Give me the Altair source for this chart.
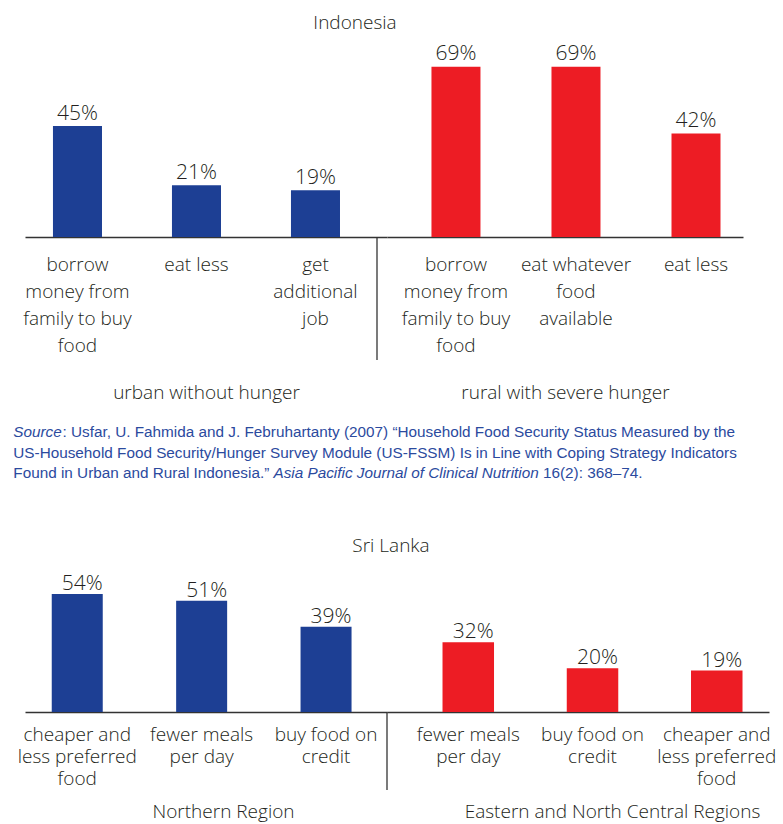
import altair as alt
import pandas as pd

# ---------------- data ----------------
indo_urban_cats = ["borrow|money from|family to buy|food", "eat less", "get|additional|job"]
indo_urban_vals = [45, 21, 19]
indo_rural_cats = ["borrow|money from|family to buy|food", "eat whatever|food|available", "eat less"]
indo_rural_vals = [69, 69, 42]

sl_north_cats = ["cheaper and|less preferred|food", "fewer meals|per day", "buy food on|credit"]
sl_north_vals = [54, 51, 39]
sl_east_cats = ["fewer meals|per day", "buy food on|credit", "cheaper and|less preferred|food"]
sl_east_vals = [32, 20, 19]

group_names = ["urban without hunger", "rural with severe hunger",
               "Northern Region", "Eastern and North Central Regions"]
panel_titles = ["Indonesia", "Sri Lanka"]

source_line1a = "Source"
source_line1b = ": Usfar, U. Fahmida and J. Februhartanty (2007) \u201cHousehold Food Security Status Measured by the"
source_line2 = "US-Household Food Security/Hunger Survey Module (US-FSSM) Is in Line with Coping Strategy Indicators"
source_line3a = "Found in Urban and Rural Indonesia.\u201d"
source_line3b = "Asia Pacific Journal of Clinical Nutrition"
source_line3c = "16(2): 368\u201374."

# ---------------- style ----------------
BLUE = "#1d3f94"
RED = "#ed1c24"
TXT = "#231f20"
SRC = "#2b4a9e"
FONT = "Open Sans"
SRC_FONT = "Liberation Sans"
SRC_SIZE = 15.3


def note(text, x, y, size=19, font=FONT, color=TXT, align="center", style="normal", weight=300):
    return alt.Chart(pd.DataFrame({"t": [text]})).mark_text(
        font=font, fontSize=size, color=color, align=align, baseline="alphabetic",
        fontStyle=style, fontWeight=weight
    ).encode(text="t:N", x=alt.value(x), y=alt.value(y))


def src(text, x, y, style="normal"):
    return note(text, x, y, size=SRC_SIZE, font=SRC_FONT, color=SRC, align="left",
                style=style, weight="normal")


def panel(cats, vals, color, width, height, ymax, pinner, pouter, palign,
          gtitle, line_h, lpad, tpad, dy, dx=0, title_x=None, divider=None, extra=()):
    df = pd.DataFrame({"cat": cats, "value": vals})
    df["label"] = [f"{v}%" for v in vals]
    axis_kw = dict(
        title=gtitle, labelExpr="split(datum.label, '|')", labelAngle=0,
        labelFont=FONT, labelFontSize=19, labelFontWeight=300, labelColor=TXT,
        labelLineHeight=line_h, labelPadding=lpad, labelOverlap=False, labelLimit=300,
        ticks=False, domainColor="#333333", domainWidth=1.5, grid=False,
        titleFont=FONT, titleFontSize=19, titleFontWeight=300,
        titleColor=TXT, titlePadding=tpad,
    )
    if title_x is not None:
        axis_kw["titleX"] = title_x
    x = alt.X("cat:N", sort=cats,
              scale=alt.Scale(paddingInner=pinner, paddingOuter=pouter, align=palign),
              axis=alt.Axis(**axis_kw))
    y = alt.Y("value:Q", scale=alt.Scale(domain=[0, ymax]), axis=None)
    base = alt.Chart(df)
    bars = base.mark_bar(color=color).encode(x=x, y=y)
    labels = base.mark_text(font=FONT, fontSize=21, fontWeight=300, color=TXT,
                            baseline="alphabetic", dy=dy, dx=dx
                            ).encode(x=x, y=y, text="label:N")
    layers = [bars, labels]
    if divider is not None:
        dxpos, dlen = divider
        layers.append(
            alt.Chart(pd.DataFrame({"d": [0]})).mark_rule(color="#333333", strokeWidth=1.3)
            .encode(x=alt.value(dxpos), y=alt.value(height), y2=alt.value(height + dlen))
        )
    layers.extend(extra)
    return alt.layer(*layers).properties(width=width, height=height)


# Indonesia
indo_extra = [
    note(panel_titles[0], 330, -23),
    src(source_line1a, -11.7, 384.7, style="italic"),
    src(source_line1b, 37.5, 384.7),
    src(source_line2, -11.7, 405.7),
    src(source_line3a, -11.7, 426.3),
    src(source_line3b, 248.5, 426.3, style="italic"),
    src(source_line3c, 518, 426.3),
]
indo_left = panel(indo_urban_cats, indo_urban_vals, BLUE, 362, 185, 75,
                  0.588, 0.315, 0.373, group_names[0], 27, 18, 28, -6.5,
                  divider=(352, 123), extra=indo_extra)
indo_right = panel(indo_rural_cats, indo_rural_vals, RED, 356, 185, 75,
                   0.5917, 0.279, 0.664, group_names[1], 27, 18, 28, -6.5)

# Sri Lanka
sl_extra = [note(panel_titles[1], 366, -29)]
sl_left = panel(sl_north_cats, sl_north_vals, BLUE, 362, 131, 60,
                0.59, 0.25, 0.43, group_names[2], 22, 13, 14, -4, dx=5, title_x=198,
                extra=sl_extra)
sl_right = panel(sl_east_cats, sl_east_vals, RED, 382, 131, 60,
                 0.5855, 0.33, 0.677, group_names[3], 22, 13, 14, -4, dx=5, title_x=225,
                 divider=(0, 78))

chart = alt.concat(
    indo_left, indo_right, sl_left, sl_right,
    columns=2, spacing={"row": 344, "column": 0}, bounds="flush", align="none",
).properties(
    padding={"left": 13, "top": 14, "right": 0, "bottom": 4},
    background="white",
).configure_view(stroke=None)

chart.save("out.html", embed_options={"renderer": "svg", "actions": False})
